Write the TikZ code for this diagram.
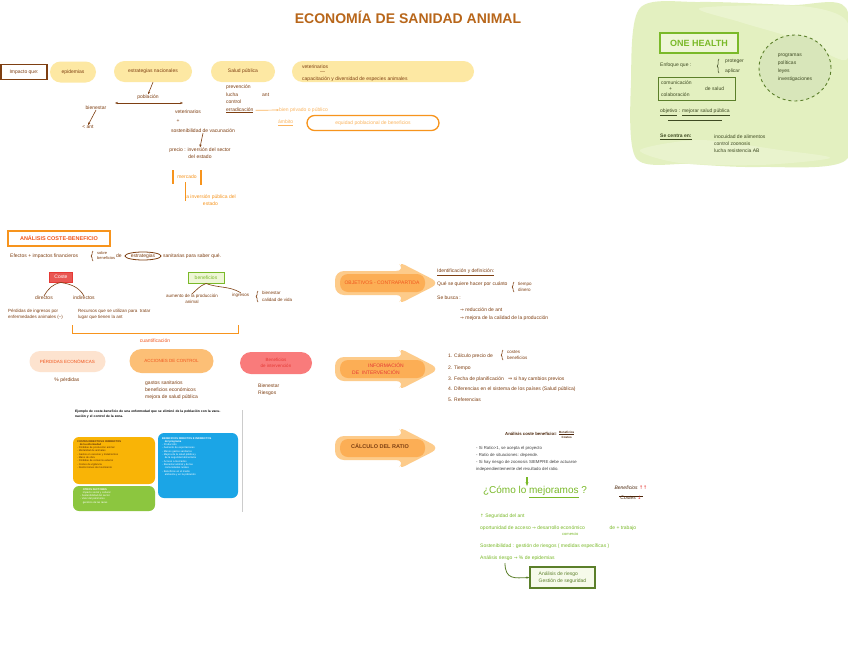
\documentclass[tikz,border=0pt]{standalone}
\usepackage{fontspec}
\setmainfont{Liberation Sans}
\newfontfamily\dv{DejaVu Sans}
\usetikzlibrary{shapes.misc,shapes.geometric,arrows.meta,calc,decorations.pathreplacing}
\definecolor{brn}{HTML}{7E3F12}
\definecolor{ttl}{HTML}{B8661A}
\definecolor{yel}{HTML}{FDE8A3}
\definecolor{org}{HTML}{F7941D}
\definecolor{lorg}{HTML}{FBB45E}
\definecolor{orgred}{HTML}{F0561E}
\definecolor{grn}{HTML}{7AB929}
\definecolor{dkgrn}{HTML}{5B7F2A}
\definecolor{gbg}{HTML}{E3F0C0}
\definecolor{gbg2}{HTML}{EEF6D6}
\definecolor{gell}{HTML}{D8E6BA}
\definecolor{gtx}{HTML}{3E4A22}
\definecolor{redc}{HTML}{E53935}
\definecolor{arrl}{HTML}{FDCB8A}
\definecolor{arrd}{HTML}{FCAE55}
\definecolor{peach}{HTML}{FDE3CF}
\definecolor{salm}{HTML}{F97B7B}
\definecolor{exo}{HTML}{F9B406}
\definecolor{exb}{HTML}{1BA5E6}
\definecolor{exg}{HTML}{8CC63F}
\newcommand\fz[2]{\fontsize{#1}{#2}\selectfont}
\tikzset{
 t/.style={font=\fz{5}{7}, text=brn, inner sep=0pt, anchor=west, align=left},
 tc/.style={t, anchor=center, align=center},
 pill/.style={rounded rectangle, fill=yel, inner sep=0pt, font=\fz{5}{7}, text=brn},
 arr/.style={-{Stealth[length=3pt]}, brn, line width=0.6pt},
 gt/.style={t, text=gtx},
 grt/.style={t, text=grn},
 cbrace/.style={decorate, decoration={brace, amplitude=1.8pt}, line width=0.6pt},
 tiny/.style={font=\fz{2.6}{3.3}, inner sep=0pt, anchor=north west, align=left},
 bigarrow/.pic={
   \fill[arrl, rounded corners=9pt] (0,-12) -- (70,-12) -- (62,-22) -- (105,0) -- (62,22) -- (70,12) -- (0,12) -- cycle;
   \fill[arrd, rounded corners=8pt] (5,-9) rectangle (90,9);
 }
}
\begin{document}
\begin{tikzpicture}[x=1pt,y=-1pt]
\useasboundingbox (0,0) rectangle (848,656);
\fill[white] (0,0) rectangle (848,656);

% ---------- title
\node[font=\bfseries\fz{14}{14}, text=ttl] (title) at (408,17) {ECONOMÍA DE SANIDAD ANIMAL};

% ---------- top row
\node[draw=brn, line width=1.2pt, t, anchor=center, minimum width=46pt, minimum height=15pt] (imp) at (24,72) {Impacto que:};
\node[pill, minimum width=46pt, minimum height=21pt] (epi) at (73,72) {epidemias};
\node[pill, minimum width=78pt, minimum height=21pt] (est) at (153,71.5) {estrategias nacionales};
\node[pill, minimum width=64pt, minimum height=21pt] (sp) at (243,71.5) {Salud pública};
\node[pill, minimum width=182pt, minimum height=21pt] (vet) at (383,71.5) {};
\node[t] (vet1) at (302,67) {veterinarios};
\node[t] (vet2) at (320,73) {---};
\node[t] (vet3) at (302,79) {capacitación y diversidad de especies animales};

% under estrategias
\node[tc] (pob) at (148,97) {población};
\draw[arr] (est.south) -- (pob.north);
\coordinate (dl) at (115,103);
\coordinate (dr) at (183,103);
\draw[brn, line width=0.6pt, {Stealth[length=3pt]}-{Stealth[length=3pt]}] (dl) -- (dr);
\node[tc] (bien) at (96,108) {bienestar};
\node[tc] (vetr) at (188,112) {veterinarios};
\node[tc] (ant1) at (88,127) {< ant};
\draw[arr] (bien.south) -- (ant1.north);
\node[tc] (plus) at (178,121) {+};
\node[tc] (sos) at (203,131) {sostenibilidad de vacunación};
\node[tc] (pre) at (200,153) {precio : inversión del sector\\del estado};
\draw[arr] (sos.south) -- (pre.north);
\node[tc, text=org] (mer) at (187,177) {mercado};
\draw[org, line width=1.3pt] ($(mer.west)+(-4,-7)$) -- ($(mer.west)+(-4,7)$);
\draw[org, line width=1.3pt] ($(mer.east)+(4,-7)$) -- ($(mer.east)+(4,8)$);
\node[t, text=org, align=center] (inv) at (185,200) {la inversión pública del\\estado};
\draw[org, line width=0.8pt] ($(mer.south west)+(8,3)$) |- (inv.west);

% under salud pública
\node[t, font=\fz{5}{7.5}] (spl) at (226,99) {prevención\\lucha\\control\\\underline{erradicación}};
\node[t] (ant2) at (262,95) {ant};
\node[t, text=lorg] (bpriv) at (279,110) {bien privado o público};
\draw[lorg, line width=0.7pt, -{Stealth[length=2.5pt]}] ($(spl.south east)+(2,-3)$) -- (bpriv.west);
\node[t, text=lorg] (amb) at (278,123) {\underline{ámbito}};
\node[rounded rectangle, draw=org, line width=1.3pt, inner sep=0pt, minimum width=132pt, minimum height=15pt, font=\fz{5}{7}, text=lorg] (equ) at (373,123) {equidad poblacional de beneficios};

% ---------- ONE HEALTH green area
\fill[gbg] plot[smooth cycle] coordinates {(640,8) (700,2) (790,5) (846,8) (848,90) (846,160) (760,167) (690,164) (636,158) (631,80)};
\fill[gbg2, opacity=0.7] plot[smooth cycle] coordinates {(700,8) (800,6) (846,20) (846,60) (800,40) (740,22)};
\fill[gbg2, opacity=0.6] plot[smooth cycle] coordinates {(640,150) (700,140) (780,150) (830,158) (760,165) (680,163)};
\node[draw=grn, line width=1.6pt, fill=gbg2, text=grn, font=\bfseries\fz{9}{9}, minimum width=78pt, minimum height=20pt] (oh) at (699,43) {ONE HEALTH};
\node[gt] (enf) at (660,65) {Enfoque que :};
\draw[cbrace, gtx] (719,73) -- (719,59);
\node[gt] (prot) at (725,61) {proteger};
\node[gt] (apli) at (725,71) {aplicar};
\node[ellipse, draw=dkgrn, dashed, line width=0.9pt, fill=gell, minimum width=72pt, minimum height=66pt, inner sep=0pt, font=\fz{5}{8}, text=gtx, align=left] (ell) at (795,68) {programas\\políticas\\leyes\\investigaciones};
\node[draw=dkgrn, line width=1pt, minimum width=77pt, minimum height=23pt, inner sep=0pt] (cbox) at (696.5,88.5) {};
\node[gt, font=\fz{5}{6}] (com) at (661,88.5) {comunicación\\\hspace*{8pt}+\\colaboración};
\node[gt] (desal) at (705,88.5) {de salud};
\node[gt] (obj) at (660,112) {\underline{objetivo} : \underline{mejorar salud pública}};
\draw[gtx, line width=0.5pt] ($(obj.south east)+(-62,5)$) -- ($(obj.south east)+(-8,5)$);
\node[gt, font=\bfseries\fz{5}{7}] (sec) at (660,137) {\underline{Se centra en:}};
\node[gt] (secl) at (714,143.5) {inocuidad de alimentos\\control zoonosis\\lucha resistencia AB};

% ---------- análisis coste-beneficio
\node[draw=org, line width=1.3pt, text=orgred, font=\bfseries\fz{5.5}{7}, minimum width=102pt, minimum height=15pt, inner sep=0pt] (acb) at (59,238.5) {ANÁLISIS COSTE-BENEFICIO};
\node[t] (efe) at (10,256) {Efectos + impactos financieros};
\draw[cbrace, brn] (93,261) -- (93,251);
\node[t, font=\fz{4}{5}] (sob) at (97,255.5) {sobre\\beneficios};
\node[t] (de1) at (116,256) {de};
\node[ellipse, draw=brn, line width=0.8pt, inner sep=0.5pt, font=\fz{5}{7}, text=brn] (estr) at (143,256) {estrategias};
\node[t] (san) at (163,256) {sanitarias para saber qué.};

\node[fill=redc!85, draw=redc, line width=1pt, text=white, font=\fz{5}{7}, minimum width=23pt, minimum height=10pt, inner sep=0pt] (cos) at (61,277) {Coste};
\node[fill=gbg2, draw=grn, line width=1pt, text=grn, font=\fz{5}{7}, minimum width=36pt, minimum height=11pt, inner sep=0pt] (ben) at (206,277.5) {beneficios};
\node[tc] (dir) at (44,298) {directos};
\node[tc] (ind) at (84,298) {indirectos};
\draw[brn, line width=0.6pt] (cos.south) to[out=190,in=60] (dir.north);
\draw[brn, line width=0.6pt] (cos.south) to[out=-10,in=120] (ind.north);
\node[t, font=\fz{4.5}{6.5}] (dirt) at (8,314.5) {Pérdidas de ingresos por\\enfermedades animales (–)};
\node[t, font=\fz{4.5}{6.5}] (indt) at (78,314.5) {Recursos que se utilizan para \ tratar\\lugar que tienen la ant};
\node[tc, font=\fz{4.5}{6.5}] (aum) at (192,299) {aumento de la producción\\animal};
\node[t, font=\fz{4.5}{6.5}] (ingr) at (232,295) {ingresos};
\draw[cbrace, brn] (258,302) -- (258,291);
\node[t, font=\fz{4.5}{6.5}] (bnst) at (262,296.5) {bienestar\\calidad de vida};
\draw[brn, line width=0.6pt] (ben.south) to[out=200,in=40] (aum.north);
\draw[brn, line width=0.6pt] (ben.south) to[out=-20,in=150] (ingr.north);

\coordinate (bq1) at (72,325);
\coordinate (bq2) at (238,325);
\draw[org, line width=1pt] (bq1) -- ++(0,8) -| (bq2);
\node[tc, text=orgred] (cuan) at (155,341) {cuantificación};

\node[rounded rectangle, fill=peach, inner sep=0pt, minimum width=76pt, minimum height=21pt, font=\fz{4.5}{6}, text=orgred] (pe) at (67.5,361.5) {PÉRDIDAS ECONÓMICAS};
\node[rounded rectangle, fill=lorg!85, inner sep=0pt, minimum width=84pt, minimum height=24pt, font=\fz{4.5}{6}, text=orgred] (ac) at (171.5,361) {ACCIONES DE CONTROL};
\node[rounded rectangle, fill=salm, inner sep=0pt, minimum width=72pt, minimum height=22pt, font=\fz{4.5}{6}, text=redc, align=center] (bi) at (276,363) {Beneficios\\de intervención};
\node[tc] (pct) at (67,380) {\% pérdidas};
\node[t] (acl) at (145,390.5) {gastos sanitarios\\beneficios económicos\\mejora de salud pública};
\node[t] (bil) at (258,389.5) {Bienestar\\Riesgos};

% ---------- embedded example
\draw[gray!40, line width=0.8pt] (242,410) -- (242,512);
\node[tiny, font=\bfseries\fz{3.3}{4.6}, text width=150pt] (ejp) at (75,410) {Ejemplo de coste-beneficio de una enfermedad que se eliminó de la población con la vacunación y el control de la zona.};
\node[fill=exo, rounded corners=6pt, minimum width=82pt, minimum height=47pt, inner sep=0pt] (obx) at (114,460.5) {};
\node[fill=exb, rounded corners=6pt, minimum width=80pt, minimum height=65pt, inner sep=0pt] (bbx) at (198,465.5) {};
\node[fill=exg, rounded corners=6pt, minimum width=82pt, minimum height=25pt, inner sep=0pt] (gbx) at (114,498.5) {};
\node[tiny, text=brn!70!black] (obt) at (77,440) {\textbf{COSTES DIRECTOS E INDIRECTOS}\\\textbf{\quad de la enfermedad}\\- Pérdidas de producción animal\\- Mortalidad de animales\\- Gastos en vacunas y tratamientos\\- Mano de obra\\- Pérdidas de comercio exterior\\- Costes de vigilancia\\- Restricciones de movimiento};
\node[tiny, text=white] (bbt) at (162,437) {\textbf{BENEFICIOS DIRECTOS E INDIRECTOS}\\\textbf{\quad del programa}\\- Producción\\- Aumento de exportaciones\\- Menos gastos sanitarios\\- Mejora de la salud pública y\\\quad de la seguridad alimentaria\\- Acceso a mercados\\- Bienestar animal y de las\\\quad comunidades rurales\\- Beneficios en el medio\\\quad ambiente y en la población};
\node[tiny, text=white] (gbt) at (80,488) {\textbf{\quad OTROS FACTORES}\\\quad impacto social y cultural\\- Sostenibilidad del sector\\- Valor del patrimonio\\\quad genético de las razas};

% ---------- right: big arrows
\pic at (335,283) {bigarrow};
\pic at (335,369) {bigarrow};
\pic at (335,448) {bigarrow};
\node[font=\fz{5}{7}, text=orgred, inner sep=0pt] (objc) at (382,283) {OBJETIVOS - CONTRAPARTIDA};
\node[font=\fz{5}{6.5}, text=redc, inner sep=0pt, align=left] (infi) at (378,369) {\hspace*{16pt}INFORMACIÓN\\DE\ \ INTERVENCIÓN};
\node[font=\bfseries\fz{5.5}{7}, text=brn, inner sep=0pt] (calc) at (380,446) {CÁLCULO DEL RATIO};

\node[t] (idf) at (437,272) {\underline{Identificación y definición:}};
\node[t] (qse) at (437,284) {Qué se quiere hacer por cuánto};
\draw[cbrace, brn] (514,292) -- (514,282);
\node[t, font=\fz{4.5}{6.5}] (tdin) at (518,287) {tiempo\\dinero};
\node[t] (sbu) at (437,298) {Se busca :};
\node[t] (sb1) at (460,310) {{\dv\fz{4.5}{6}→}\ reducción de ant};
\node[t] (sb2) at (460,318) {{\dv\fz{4.5}{6}→}\ mejora de la calidad de la producción};

\node[t] (i1) at (448,356) {1. Cálculo precio de};
\draw[cbrace, brn] (503,360) -- (503,350);
\node[t, font=\fz{4.5}{6.5}] (i1b) at (507,355) {costes\\beneficios};
\node[t] (i2) at (448,368) {2. Tiempo};
\node[t] (i3) at (448,379) {3. Fecha de planificación \ \ {\dv ⇒} si hay cambios previos};
\node[t] (i4) at (448,389) {4. Diferencias en el sistema de los países (Salud pública)};
\node[t] (i5) at (448,400) {5. Referencias};

\node[t, font=\bfseries\fz{4.3}{6}, text=brn!60!black] (acbf) at (505,435) {Análisis coste beneficio= $\frac{\mbox{\fz{3}{3}Beneficios}}{\mbox{\fz{3}{3}Costes}}$};
\node[t, font=\fz{4.3}{7}, text=black!75] (r1) at (476,459) {- Si Ratio>1, se acepta el proyecto\\- Ratio de situaciones: depende.\\- Si hay riesgo de zoonosis SIEMPRE debe actuarse\\independientemente del resultado del ratio.};
\node[font=\fz{10}{10}, text=grn, inner sep=0pt] (como) at (535,492) {¿Cómo lo \underline{mejoramos} ?};
\coordinate (ga) at (527,477);
\draw[grn, line width=1.2pt, -{Stealth[length=4pt]}] (ga) -- (ga |- como.north);
\node[font=\fz{5}{7}, text=brn!60!black, inner sep=0pt, align=center] (frac) at (631,493) {\textit{Beneficios} {\dv\color{redc}↑↑}\\[-1pt]\rule{24pt}{0.3pt}\\[-3pt]\textit{Costes} {\dv\color{redc}↓}};

\node[grt] (g1) at (480,516) {{\dv\fz{4.5}{6}↑}\ Seguridad del ant};
\node[grt] (g2) at (480,528) {oportunidad de acceso {\dv\fz{4.5}{6}→}\ desarrollo económico \hspace*{22pt} de + trabajo};
\node[grt, font=\fz{4}{5}] (g2b) at (562,534) {comercio};
\node[grt] (g3) at (480,546) {Sostenibilidad : gestión de riesgos ( medidas específicas )};
\node[grt] (g4) at (480,558) {Análisis riesgo {\dv\fz{4.5}{6}→}\ \% de epidemias};
\node[draw=dkgrn, line width=1.3pt, fill=gbg2!50, font=\fz{5}{7}, text=dkgrn, align=left, minimum width=65pt, minimum height=21pt, inner sep=2pt] (bx) at (562.5,577.5) {Análisis de riesgo\\Gestión de seguridad};
\coordinate (ca) at (505,563);
\draw[dkgrn, line width=0.8pt, -{Stealth[length=3pt]}] (ca) .. controls (505,580) and (515,578) .. (bx.west);
\end{tikzpicture}
\end{document}
